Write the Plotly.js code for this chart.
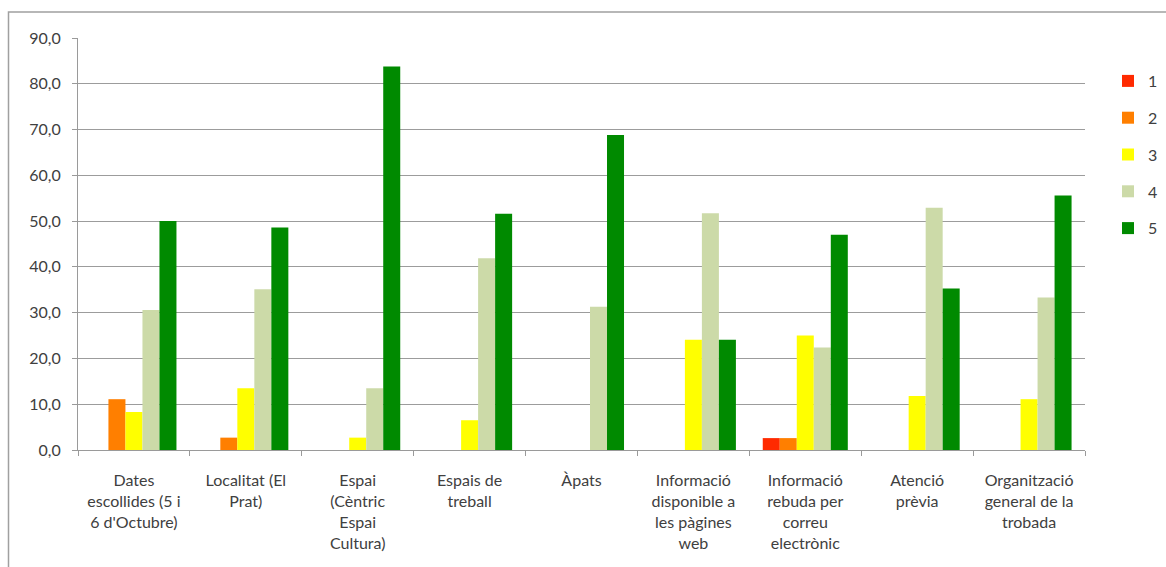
<!DOCTYPE html>
<html>
<head>
<meta charset="utf-8">
<script src="https://cdn.plot.ly/plotly-3.0.1.min.js"></script>
<style>
html,body{margin:0;padding:0;background:#fff;}
#chart{width:1166px;height:567px;}
</style>
</head>
<body>
<div id="chart"></div>
<script>
const categories = [
  "Dates<br>escollides (5 i<br>6 d'Octubre)",
  "Localitat (El<br>Prat)",
  "Espai<br>(Cèntric<br>Espai<br>Cultura)",
  "Espais de<br>treball",
  "Àpats",
  "Informació<br>disponible a<br>les pàgines<br>web",
  "Informació<br>rebuda per<br>correu<br>electrònic",
  "Atenció<br>prèvia",
  "Organització<br>general de la<br>trobada"
];
const seriesNames = ["1", "2", "3", "4", "5"];
const values1 = [0, 0, 0, 0, 0, 0, 2.6, 0, 0];
const values2 = [11.1, 2.7, 0, 0, 0, 0, 2.6, 0, 0];
const values3 = [8.3, 13.5, 2.7, 6.5, 0, 24.1, 25.0, 11.8, 11.1];
const values4 = [30.6, 35.1, 13.5, 41.9, 31.3, 51.7, 22.4, 52.9, 33.3];
const values5 = [50.0, 48.6, 83.8, 51.6, 68.8, 24.1, 47.0, 35.3, 55.6];
const colors = ["#ff2a00", "#ff7f00", "#ffff00", "#ccdaa8", "#008a00"];
const allValues = [values1, values2, values3, values4, values5];

const traces = allValues.map((v, i) => ({
  type: "bar",
  name: seriesNames[i],
  x: categories,
  y: v,
  marker: {color: colors[i], line: {width: 0}},
  legendgroup: "g" + i,
  hoverinfo: "y+name"
}));

const plotL = 78, plotR = 1085, plotT = 38, plotB = 450;
const W = 1166, H = 567;
const px = x => (x - plotL) / (plotR - plotL);
const py = y => (plotB - y) / (plotB - plotT);

const layout = {
  width: W, height: H,
  margin: {l: plotL, r: W - plotR, t: plotT, b: H - plotB, pad: 0, autoexpand: false},
  paper_bgcolor: "#ffffff",
  plot_bgcolor: "#ffffff",
  separators: ",.",
  font: {family: "Lato, 'Liberation Sans', sans-serif", size: 16, color: "#404040"},
  barmode: "group",
  bargap: 0.24,
  bargroupgap: 0,
  showlegend: true,
  legend: {
    x: px(1108), xanchor: "left",
    y: py(64), yanchor: "top",
    tracegroupgap: 13,
    traceorder: "grouped",
    font: {size: 16, color: "#404040"},
    bgcolor: "rgba(0,0,0,0)",
    itemwidth: 30
  },
  xaxis: {
    type: "category",
    showgrid: false,
    showline: true, linecolor: "#9a9a9a", linewidth: 1,
    ticks: "outside", ticklen: 5, tickcolor: "#9a9a9a",
    tickson: "boundaries",
    tickangle: 0,
    ticklabelstandoff: 16,
    tickfont: {size: 16, color: "#404040"},
    automargin: false,
    fixedrange: true
  },
  yaxis: {
    range: [0, 90], dtick: 10, tick0: 0,
    tickformat: ".1f",
    showgrid: true, gridcolor: "#9c9c9c", gridwidth: 1.2,
    showline: true, linecolor: "#9a9a9a", linewidth: 1,
    ticks: "outside", ticklen: 5, tickcolor: "#9a9a9a",
    ticklabelstandoff: 8,
    zeroline: false,
    tickfont: {size: 16, color: "#404040"},
    automargin: false,
    fixedrange: true
  },
  shapes: [{
    type: "rect", xref: "paper", yref: "paper",
    x0: px(8.5), x1: px(1175), y0: py(580), y1: py(12),
    line: {color: "#a0a0a0", width: 1.5},
    fillcolor: "rgba(0,0,0,0)", layer: "below"
  }]
};

Plotly.newPlot("chart", traces, layout, {displayModeBar: false, staticPlot: true});
</script>
</body>
</html>
